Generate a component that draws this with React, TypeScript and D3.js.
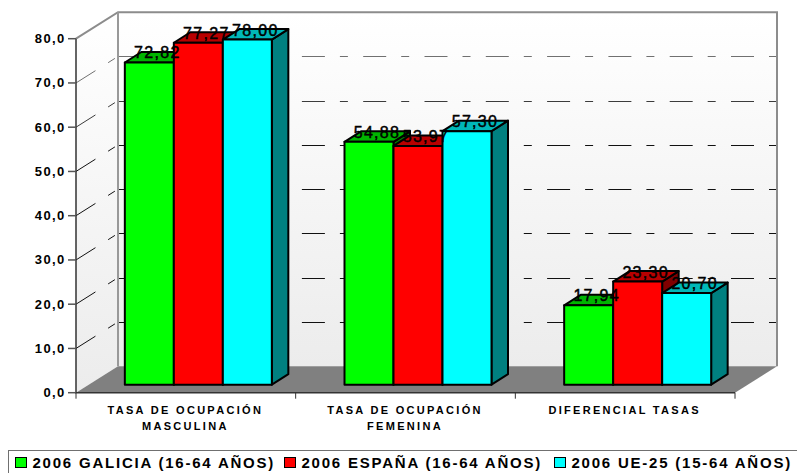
import React from "react";
import * as d3 from "d3";

const categories = [["TASA DE OCUPACIÓN", "MASCULINA"], ["TASA DE OCUPACIÓN", "FEMENINA"], ["DIFERENCIAL TASAS"]];
const seriesNames = ["2006 GALICIA (16-64 AÑOS)", "2006 ESPAÑA (16-64 AÑOS)", "2006 UE-25 (15-64 AÑOS)"];
const galicia = [72.82, 54.88, 17.94];
const espana = [77.27, 53.97, 23.3];
const ue25 = [78.0, 57.3, 20.7];
const yTicks = [0, 10, 20, 30, 40, 50, 60, 70, 80];
const frontColors = ["#00ff00", "#ff0000", "#00ffff"];
const topColors = ["#00b400", "#b80000", "#00b8b8"];
const sideColors = ["#008000", "#800000", "#008080"];

const FONT = "'Liberation Sans', Arial, sans-serif";
const locale = d3.formatLocale({ decimal: ",", thousands: ".", grouping: [3], currency: ["", ""] });
const f1 = locale.format(".1f");
const f2 = locale.format(".2f");

const X0 = 76, X1 = 735, Y0 = 392.7;
const DX = 42, DY = -26.5;
const BAR_DX = 16.5, BAR_DY = -10.5;
const BAR_FY = -8;
const y = d3.scaleLinear().domain([0, 80]).range([Y0, 38.7]);
const xBand = d3.scaleBand<number>().domain([0, 1, 2]).range([X0, X1]);
const BAR_W = 49;
const DASH = "23 15 8 15.3";

export default function App() {
  const series = [galicia, espana, ue25];
  const pts = (a: number[][]) => a.map((p) => p.join(",")).join(" ");
  const barStart = (i: number) => (xBand(i) as number) + xBand.bandwidth() / 2 - 61;
  return (
    <svg width={797} height={473} viewBox="0 0 797 473" style={{ position: "absolute", left: 0, top: 0, display: "block", background: "#fff" }} fontFamily={FONT}>
      <defs>
        <linearGradient id="wall" x1="0" y1="0" x2="0" y2="1">
          <stop offset="0" stopColor="#ffffff" />
          <stop offset="1" stopColor="#ececec" />
        </linearGradient>
      </defs>
      <rect x={X0 + DX} y={y(80) + DY} width={X1 - X0} height={y(0) - y(80)} fill="url(#wall)" />
      <polygon points={pts([[X0, y(80)], [X0 + DX, y(80) + DY], [X0 + DX, y(0) + DY], [X0, y(0)]])} fill="url(#wall)" />
      <polygon points={pts([[X0, Y0], [X1, Y0], [X1 + DX, Y0 + DY], [X0 + DX, Y0 + DY]])} fill="#808080" />
      {yTicks.filter((t) => t > 0 && t < 80).map((t) => (
        <g key={t} stroke={t === 70 ? "#707070" : t === 60 ? "#3c3c3c" : "#111"} strokeWidth={1} fill="none">
          <path d={`M${X0},${y(t)}L${X0 + DX},${y(t) + DY}`} strokeDasharray={DASH} />
          <path d={`M${X0 + DX},${Math.round(y(t) + DY) + 0.5}H${X1 + DX}`} strokeDasharray={DASH} />
        </g>
      ))}
      <path d={`M${X0},${y(80)}L${X0 + DX},${y(80) + DY}H${X1 + DX}V${y(0) + DY}`} fill="none" stroke="#8c8c8c" strokeWidth={2} />
      <path d={`M${X0 + DX},${y(80) + DY}V${y(0) + DY}`} fill="none" stroke="#999" strokeWidth={2} />
      <path d={`M${X0},${y(80)}V${Y0}H${X1}`} fill="none" stroke="#333" strokeWidth={1.5} />
      {yTicks.map((t) => (
        <g key={t}>
          <line x1={X0 - 8} x2={X0} y1={y(t)} y2={y(t)} stroke="#555" strokeWidth={1.5} />
          <text x={65.5} y={y(t) + 4.5} textAnchor="end" fontSize={13} fontWeight="bold" letterSpacing={1.35} fill="#000">{f1(t)}</text>
        </g>
      ))}
      {[X0, ...categories.map((_, i) => (xBand(i) as number) + xBand.bandwidth())].map((x, i) => (
        <line key={i} x1={x} x2={x} y1={Y0} y2={Y0 + 6} stroke="#333" strokeWidth={1} />
      ))}
      {categories.map((lines, i) => (
        <text key={i} textAnchor="middle" fontSize={11} fontWeight="bold" letterSpacing={2.3} fill="#000">
          {lines.map((l, j) => (
            <tspan key={j} x={(xBand(i) as number) + xBand.bandwidth() / 2 - 0.5} y={414 + j * 16}>{l}</tspan>
          ))}
        </text>
      ))}
      {categories.map((_, i) =>
        series.map((s, k) => {
          const x = barStart(i) + k * BAR_W;
          const bot = y(0) + BAR_FY;
          const top = y(s[i]) + BAR_FY;
          return (
            <g key={`${i}-${k}`} stroke="#000" strokeWidth={2} strokeLinejoin="round">
              <polygon points={pts([[x + BAR_W, top], [x + BAR_W + BAR_DX, top + BAR_DY], [x + BAR_W + BAR_DX, bot + BAR_DY], [x + BAR_W, bot]])} fill={sideColors[k]} />
              <polygon points={pts([[x, top], [x + BAR_DX, top + BAR_DY], [x + BAR_W + BAR_DX, top + BAR_DY], [x + BAR_W, top]])} fill={topColors[k]} />
              <rect x={x} y={top} width={BAR_W} height={bot - top} fill={frontColors[k]} />
            </g>
          );
        })
      )}
      {categories.map((_, i) =>
        series.map((s, k) => (
          <text key={`${i}-${k}`} x={barStart(i) + k * BAR_W + BAR_W / 2 + 8} y={y(s[i]) + BAR_FY - 4} textAnchor="middle" fontSize={16} letterSpacing={1.3} fill="#000" stroke="#000" strokeWidth={0.45}>{f2(s[i])}</text>
        ))
      )}
      <rect x={8.5} y={450.5} width={795} height={32} fill="#fff" stroke="#707070" strokeWidth={1} />
      {seriesNames.map((n, k) => {
        const lx = [15, 284, 554][k];
        return (
          <g key={n}>
            <rect x={lx + 0.5} y={457.5} width={11} height={10} fill={frontColors[k]} stroke="#000" strokeWidth={1} />
            <text x={lx + 17.5} y={468} fontSize={15} fontWeight="bold" letterSpacing={1.78} fill="#000">{n}</text>
          </g>
        );
      })}
    </svg>
  );
}
